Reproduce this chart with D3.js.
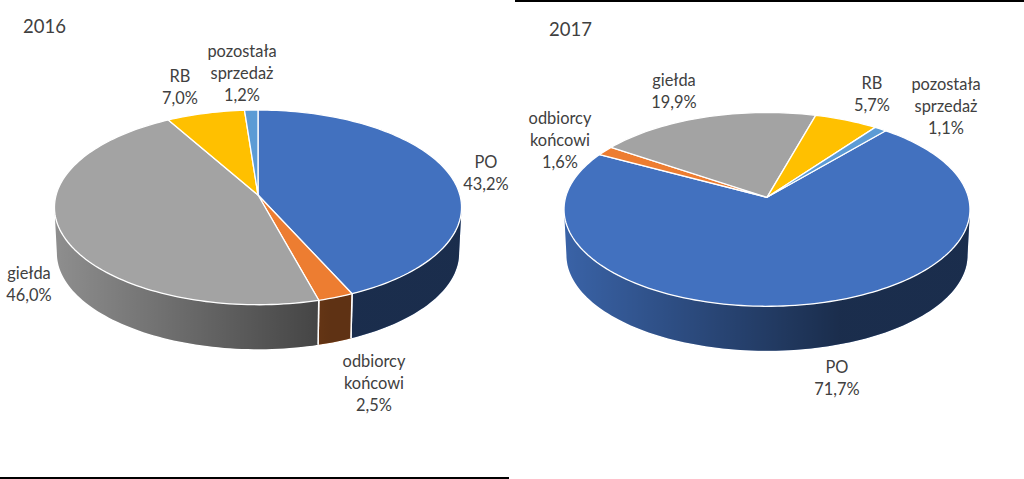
<!DOCTYPE html>
<html><head><meta charset="utf-8">
<script src="https://cdn.jsdelivr.net/npm/d3@7"></script>
<style>html,body{margin:0;padding:0;background:#fff}svg{display:block}</style>
</head><body><svg id="c" width="1024" height="479"></svg>
<script>
const categories = ["PO", "odbiorcy końcowi", "giełda", "RB", "pozostała sprzedaż"];
const values2016 = [43.2, 2.5, 46.0, 7.0, 1.2];
const values2017 = [71.7, 1.6, 19.9, 5.7, 1.1];
const labels2016 = ["43,2%", "2,5%", "46,0%", "7,0%", "1,2%"];
const labels2017 = ["71,7%", "1,6%", "19,9%", "5,7%", "1,1%"];
const colors = ["#4271BF", "#ED7D31", "#A3A3A3", "#FFC000", "#5B9BD5"];

// layout, separate from data
const lineBreaks = [["PO"], ["odbiorcy", "końcowi"], ["giełda"], ["RB"], ["pozostała", "sprzedaż"]];
const charts = [
  { id: "a", title: "2016", titleX: 23, titleY: 33, values: values2016, labels: labels2016,
    startDeg: 0, cx: 258, y0: 195, A: 201.9, B: 95.8, p: 0.127, depth: 44.5,
    labelPos: [[486,168],[374,367],[29,279],[180,82],[242,57]] },
  { id: "b", title: "2017", titleX: 549, titleY: 36, values: values2017, labels: labels2017,
    startDeg: 40.2, cx: 767, y0: 197.3, A: 201.4, B: 95.4, p: 0.1247, depth: 44.5,
    labelPos: [[837,373],[560,124],[674,86],[872,89],[946,90]] }
];
const svg = d3.select("#c");
const defs = svg.append("defs");
const rad = Math.PI / 180;
const line = d3.line().x(d => d[0]).y(d => d[1]);

function drawPie(c) {
  const project = (th, bottom) => {
    const u = Math.sin(th), v = -Math.cos(th), w = 1 - c.p * v;
    const x = c.A * u / w, y = c.B * v / w;
    return bottom ? [c.cx + x * 0.988, c.y0 + y * 0.988 + c.depth + 1.3] : [c.cx + x, c.y0 + y];
  };
  const arcPts = (a0, a1, bottom) => {
    const n = Math.max(2, Math.ceil(Math.abs(a1 - a0) / (rad * 1.5)));
    return d3.range(n + 1).map(i => project(a0 + (a1 - a0) * i / n, bottom));
  };
  const pie = d3.pie().sort(null).startAngle(c.startDeg * rad).endAngle(c.startDeg * rad + 2 * Math.PI);
  const slices = pie(c.values);
  const g = svg.append("g");

  const grad = defs.append("linearGradient").attr("id", "shade" + c.id)
    .attr("gradientUnits", "userSpaceOnUse")
    .attr("x1", c.cx - c.A).attr("x2", c.cx + c.A).attr("y1", 0).attr("y2", 0);
  [[0, 0.13], [0.68, 0.6], [1, 0.6]].forEach(s =>
    grad.append("stop").attr("offset", s[0]).attr("stop-color", "#000").attr("stop-opacity", s[1]));

  // visible front wall, between the two tangent points of the rim
  const frontA = Math.acos(-c.p), frontB = 2 * Math.PI - frontA;
  slices.forEach((s, i) => {
    for (const turn of [0, 2 * Math.PI, -2 * Math.PI]) {
      const a0 = Math.max(s.startAngle + turn, frontA), a1 = Math.min(s.endAngle + turn, frontB);
      if (a1 <= a0) continue;
      const pts = arcPts(a0, a1, false).concat(arcPts(a1, a0, true));
      const d = line(pts) + "Z";
      g.append("path").attr("d", d).attr("fill", colors[i]);
      g.append("path").attr("d", d).attr("fill", `url(#shade${c.id})`);
      [[a0, s.startAngle + turn], [a1, s.endAngle + turn]].forEach(e => {
        if (Math.abs(e[0] - e[1]) < 1e-6)
          g.append("path").attr("d", line([project(e[0], false), project(e[0], true)]))
            .attr("stroke", "#fff").attr("stroke-width", 1.5).attr("fill", "none");
      });
    }
  });

  // top face
  slices.forEach((s, i) => {
    const apex = [c.cx, c.y0];
    g.append("path").attr("d", line([apex].concat(arcPts(s.startAngle, s.endAngle, false))) + "Z")
      .attr("fill", colors[i]).attr("stroke", "#fff").attr("stroke-width", 1.3).attr("stroke-linejoin", "round");
  });

  // labels
  const text = svg.append("g").attr("font-family", "Lato, Carlito, sans-serif").attr("fill", "#404040");
  text.append("text").attr("x", c.titleX).attr("y", c.titleY).attr("font-size", 18.5).text(c.title);
  categories.forEach((cat, i) => {
    const lines = lineBreaks[i].concat([c.labels[i]]);
    const [lx, ly] = c.labelPos[i];
    lines.forEach((t, k) => text.append("text").attr("x", lx).attr("y", ly + k * 21.8)
      .attr("text-anchor", "middle").attr("font-size", 16.4).text(t));
  });
}
charts.forEach(drawPie);

// frame rules of the two pasted panels
const rules = [[0, 509, 478], [515, 1024, 1]];
svg.selectAll("line.rule").data(rules).join("line").attr("class", "rule")
  .attr("x1", d => d[0]).attr("x2", d => d[1]).attr("y1", d => d[2]).attr("y2", d => d[2])
  .attr("stroke", "#000").attr("stroke-width", 2);
</script></body></html>
